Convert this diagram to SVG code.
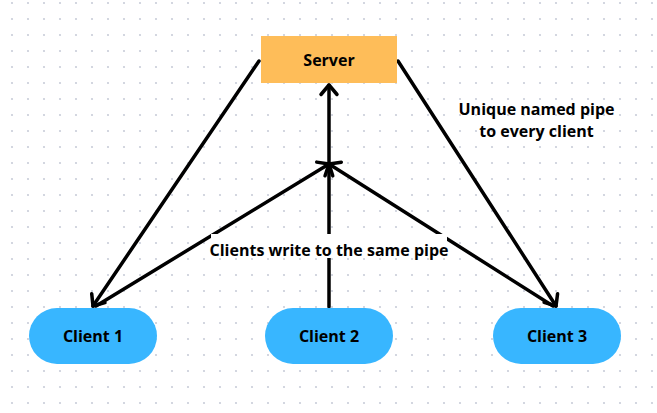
<svg xmlns="http://www.w3.org/2000/svg" width="657" height="413" viewBox="0 0 657 413">
<defs>
<pattern id="dots" x="0" y="0" width="16" height="16" patternUnits="userSpaceOnUse">
<circle cx="12" cy="3" r="1.1" fill="#c9cdd9"/>
</pattern>
<marker id="arr" markerUnits="userSpaceOnUse" markerWidth="30" markerHeight="30" refX="0" refY="0" viewBox="-15 -15 30 30" orient="auto" overflow="visible">
<path d="M -9.5 -8 L 0 0 L -9.5 8" fill="none" stroke="#000" stroke-width="3.5" stroke-linecap="round" stroke-linejoin="round"/>
</marker>
<style>
.t{font-family:"Open Sans","Noto Sans","DejaVu Sans",sans-serif;font-weight:700;font-size:16px;fill:#000;text-anchor:middle}
.client{fill:#38b6ff}
.server{fill:#febd59}
.c{fill:none;stroke:#000;stroke-width:3.5;stroke-linecap:round;marker-end:url(#arr)}
</style>
</defs>
<rect width="657" height="413" fill="#fff"/>
<rect width="657" height="413" fill="url(#dots)"/>
<g id="connectors">
<line class="c" x1="259" y1="61" x2="93" y2="306"/>
<line class="c" x1="398" y1="61" x2="556" y2="306"/>
<line class="c" x1="96" y1="306" x2="329" y2="164"/>
<line class="c" x1="553" y1="306" x2="329" y2="164"/>
<line class="c" x1="329" y1="307" x2="329" y2="85"/>
</g>
<g id="server">
<rect class="server" x="261" y="36" width="136" height="47"/>
<text class="t" x="329" y="66">Server</text>
</g>
<g id="client1">
<rect class="client" x="29" y="308" width="128" height="56" rx="28"/>
<text class="t" x="93" y="342">Client 1</text>
</g>
<g id="client2">
<rect class="client" x="265" y="308" width="128" height="56" rx="28"/>
<text class="t" x="329" y="342">Client 2</text>
</g>
<g id="client3">
<rect class="client" x="493" y="308" width="128" height="56" rx="28"/>
<text class="t" x="557" y="342">Client 3</text>
</g>
<g id="label-same-pipe">
<rect x="211" y="234" width="236" height="24" fill="#fff"/>
<text class="t" x="329" y="256">Clients write to the same pipe</text>
</g>
<g id="label-unique">
<text class="t" x="536.5" y="115">Unique named pipe</text>
<text class="t" x="536.5" y="137">to every client</text>
</g>
</svg>
